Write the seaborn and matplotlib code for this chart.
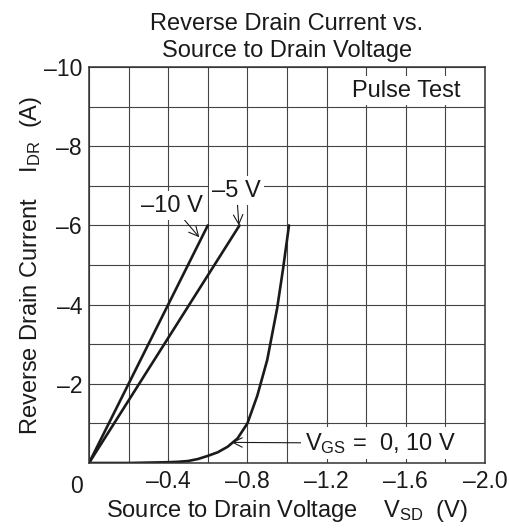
import numpy as np
import pandas as pd
import matplotlib
matplotlib.use("Agg")
import matplotlib.pyplot as plt
import seaborn as sns

# ---- data ----
vsd_m10 = [0.0, -0.60]
idr_m10 = [0.0, -6.0]
vsd_m5 = [0.0, -0.76]
idr_m5 = [0.0, -6.0]
vsd_0 = [0.0, -0.1, -0.2, -0.3, -0.4, -0.45, -0.5, -0.55, -0.6, -0.65, -0.7,
         -0.75, -0.8, -0.85, -0.9, -0.95, -0.98, -1.01]
idr_0 = [0.0, 0.0, 0.0, -0.01, -0.02, -0.03, -0.05, -0.10, -0.18, -0.27, -0.41,
         -0.62, -1.0, -1.7, -2.6, -3.9, -4.9, -6.0]

x_ticks = [0, -0.2, -0.4, -0.6, -0.8, -1.0, -1.2, -1.4, -1.6, -1.8, -2.0]
x_labels = ["", "", "\u20130.4", "", "\u20130.8", "", "\u20131.2", "", "\u20131.6", "", "\u20132.0"]
y_ticks = [0, -1, -2, -3, -4, -5, -6, -7, -8, -9, -10]
y_labels = ["", "", "\u20132", "", "\u20134", "", "\u20136", "", "\u20138", "", "\u201310"]

sns.set_theme(style="white")
plt.rcParams['font.family'] = ['Liberation Sans', 'DejaVu Sans']
plt.rcParams['mathtext.fontset'] = 'custom'
plt.rcParams['mathtext.rm'] = 'Liberation Sans'

fs = 17
tfs = 16.5
fig = plt.figure(figsize=(5.10, 5.31), dpi=100)
ax = fig.add_axes([89/510, 1 - 463/531, 396/510, 396/531])

lw = 1.9
sns.lineplot(x=vsd_m10, y=idr_m10, ax=ax, color="#1a1a1a", lw=lw, sort=False, estimator=None)
sns.lineplot(x=vsd_m5, y=idr_m5, ax=ax, color="#1a1a1a", lw=lw, sort=False, estimator=None)
sns.lineplot(x=vsd_0, y=idr_0, ax=ax, color="#1a1a1a", lw=lw, sort=False, estimator=None)

ax.set_xlim(0, -2.0)
ax.set_ylim(0, -10)
ax.set_xticks(x_ticks)
ax.set_xticklabels(x_labels, fontsize=tfs, color="#1a1a1a")
ax.set_yticks(y_ticks)
ax.set_yticklabels(y_labels, fontsize=tfs, color="#1a1a1a")
ax.tick_params(axis='both', length=0)
ax.tick_params(axis='x', pad=5)
ax.tick_params(axis='y', pad=5)
ax.grid(True, color="#444444", lw=0.8)
for s in ax.spines.values():
    s.set_visible(True)
    s.set_color("#333333")
    s.set_linewidth(1.1)

ax.set_xlabel(r"Source to Drain Voltage    $\mathregular{V_{SD}}$  (V)", fontsize=fs, labelpad=4, color="#1a1a1a")
ax.set_ylabel(r"Reverse Drain Current    $\mathregular{I_{DR}}$  (A)", fontsize=fs, labelpad=0, color="#1a1a1a")
ax.set_title("Reverse Drain Current vs.\nSource to Drain Voltage", fontsize=fs,
             linespacing=1.3, pad=7, color="#1a1a1a")

ax.text(-0.015, -0.03, "0", transform=ax.transAxes, ha="right", va="top", fontsize=tfs, color="#1a1a1a")

bb = dict(boxstyle="square,pad=0.15", fc="white", ec="none")
ap = dict(arrowstyle="->", lw=0.8, color="#1a1a1a", shrinkA=0, shrinkB=0)
ax.text(-1.6, -9.4, "Pulse Test", ha="center", va="center", fontsize=fs, bbox=bb, color="#1a1a1a")
ax.annotate("\u201310 V", xy=(-0.557, -5.7), xytext=(-0.42, -6.5), ha="center", va="center",
            fontsize=fs, bbox=bb, arrowprops=ap, color="#1a1a1a")
ax.annotate("\u20135 V", xy=(-0.757, -6.0), xytext=(-0.745, -6.88), ha="center", va="center",
            fontsize=fs, bbox=bb, arrowprops=ap, color="#1a1a1a")
ax.annotate(r"$\mathregular{V_{GS}}$ =  0, 10 V", xy=(-0.72, -0.52), xytext=(-1.47, -0.5),
            ha="center", va="center", fontsize=fs, bbox=bb, arrowprops=ap, color="#1a1a1a")

fig.savefig("out.png", dpi=100)
